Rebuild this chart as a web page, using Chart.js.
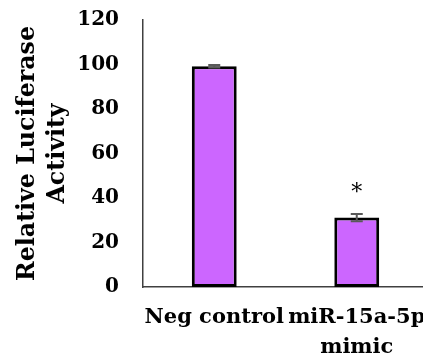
<!DOCTYPE html>
<html>
<head>
<meta charset="utf-8">
<script src="https://cdn.jsdelivr.net/npm/chart.js@4.4.1/dist/chart.umd.min.js"></script>
<style>
  html, body { margin: 0; padding: 0; background: #fff; overflow: hidden; }
  #wrap { width: 428px; height: 354px; }
</style>
</head>
<body>
<div id="wrap"><canvas id="grafico"></canvas></div>
<script>
// dados
const categorias = ['Neg control', ['miR-15a-5p', 'mimic']];
const valores = [99.2, 31.2];
const erros = [0.6, 1.6];
const marcas = ['', '*'];
const ticksY = [0, 20, 40, 60, 80, 100, 120];

const fonte = "'DejaVu Serif', serif";

// barras de erro e asterisco desenhados por cima das barras
const errorBarsPlugin = {
  id: 'errorBars',
  afterDatasetsDraw(chart) {
    const ctx = chart.ctx;
    const y = chart.scales.y;
    const meta = chart.getDatasetMeta(0);
    ctx.save();
    meta.data.forEach((bar, i) => {
      const top = y.getPixelForValue(valores[i] + erros[i]);
      const bot = y.getPixelForValue(valores[i] - erros[i]);
      ctx.strokeStyle = '#595959';
      ctx.lineWidth = 2;
      ctx.beginPath();
      ctx.moveTo(bar.x, top); ctx.lineTo(bar.x, bot);
      ctx.moveTo(bar.x - 6, top); ctx.lineTo(bar.x + 6, top);
      ctx.moveTo(bar.x - 6, bot); ctx.lineTo(bar.x + 6, bot);
      ctx.stroke();
      if (marcas[i]) {
        ctx.fillStyle = '#000';
        ctx.font = "22px " + fonte;
        ctx.textAlign = 'center';
        ctx.textBaseline = 'middle';
        ctx.fillText(marcas[i], bar.x, y.getPixelForValue(valores[i] + erros[i] + 9.5));
      }
    });
    ctx.restore();
  }
};

const ctx = document.getElementById('grafico').getContext('2d');
new Chart(ctx, {
  type: 'bar',
  data: {
    labels: categorias,
    datasets: [{
      data: valores,
      backgroundColor: '#CC66FF',
      borderColor: '#000000',
      borderWidth: 3,
      borderSkipped: false,
      barPercentage: 0.63,
      categoryPercentage: 0.5
    }]
  },
  options: {
    responsive: true,
    maintainAspectRatio: false,
    animation: false,
    layout: { padding: { top: 20, right: 0, left: 0, bottom: 0 } },
    plugins: {
      legend: { display: false },
      tooltip: { enabled: false }
    },
    scales: {
      x: {
        grid: { display: false, drawTicks: false },
        border: { color: '#404040', width: 1.5 },
        ticks: {
          color: '#000',
          padding: 16,
          maxRotation: 0,
          autoSkip: false,
          font: { family: fonte, size: 21, weight: 'bold', lineHeight: 1.4 }
        },
        afterFit(scale) {
          scale.height = 67;
          scale.paddingLeft = 0;
          scale.paddingRight = 0;
        }
      },
      y: {
        min: 0,
        max: 120,
        afterBuildTicks(scale) { scale.ticks = ticksY.map(v => ({ value: v })); },
        grid: { display: false, drawTicks: false },
        border: { color: '#404040', width: 1.5 },
        ticks: {
          color: '#000',
          padding: 24,
          font: { family: fonte, size: 20, weight: 'bold' }
        },
        title: {
          display: true,
          text: ['Relative Luciferase', 'Activity'],
          color: '#000',
          padding: { top: 13, bottom: 0 },
          font: { family: fonte, size: 23.7, weight: 'bold', lineHeight: 1.27 }
        },
        afterFit(scale) {
          scale.width = 143;
          scale.paddingTop = 0;
          scale.paddingBottom = 0;
        }
      }
    }
  },
  plugins: [errorBarsPlugin]
});
</script>
</body>
</html>
